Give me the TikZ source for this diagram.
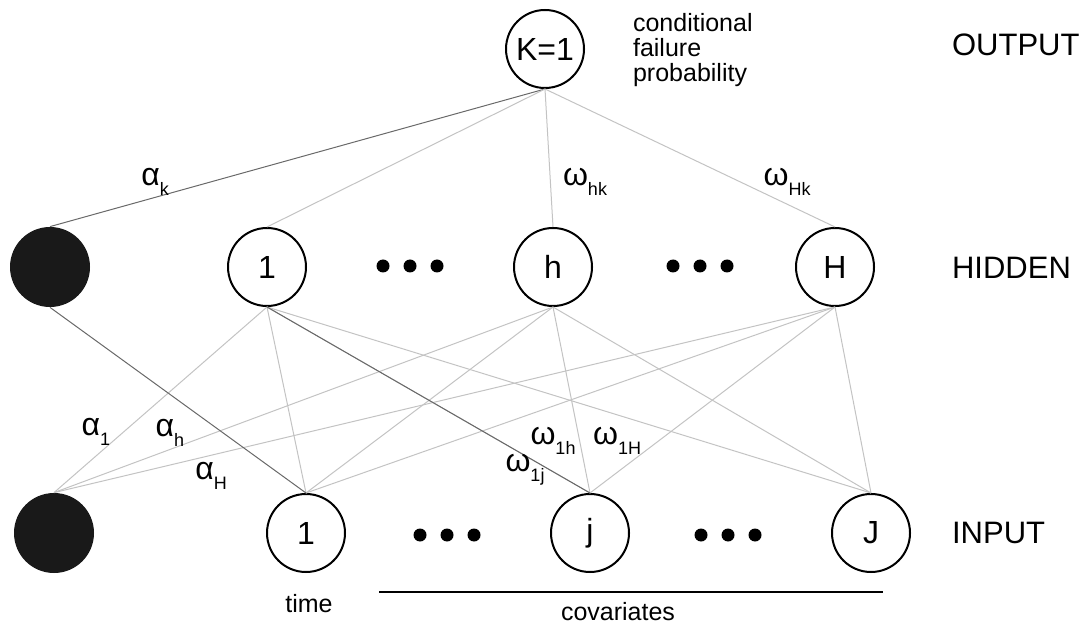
\documentclass[tikz,border=0pt]{standalone}
\usepackage{fontspec}
\setmainfont{Liberation Sans}
\usepackage{tikz}
\usetikzlibrary{positioning}
\definecolor{edgegray}{RGB}{195,195,195}
\definecolor{edgedark}{RGB}{105,105,105}
\definecolor{biasfill}{RGB}{25,25,25}
% weight label with a lowered small index
\newcommand{\wt}[2]{#1\raisebox{-0.6ex}{\fontsize{9}{9}\selectfont #2}}

\begin{document}
\begin{tikzpicture}[x=0.5pt,y=-0.5pt,
  unit/.style={circle,draw,line width=1pt,minimum size=39pt,inner sep=0pt,font=\fontsize{16}{16}\selectfont},
  biasunit/.style={circle,fill=biasfill,minimum size=40pt,inner sep=0pt},
  link/.style={edgegray,line width=0.5pt},
  strong/.style={edgedark,line width=0.5pt},
  layer/.style={anchor=west,font=\fontsize{15.5}{15.5}\selectfont},
  wlabel/.style={font=\fontsize{16}{16}\selectfont},
  note/.style={font=\fontsize{12.5}{12.5}\selectfont}]
  \useasboundingbox (0,0) rectangle (1079,624);

  % output layer
  \node[unit] (out) at (545,49) {K=1};
  \node[note,anchor=west,align=left] (prob) at (626,50) {conditional\\failure\\probability};
  \node[layer] (lout) at (945,45) {OUTPUT};

  % hidden layer
  \node[biasunit] (hb) at (50,267) {};
  \node[unit] (h1) at (267,267) {1};
  \node[unit] (hh) at (553,267) {h};
  \node[unit] (hH) at (835,267) {H};
  \node[layer] (lhid) at (945,268) {HIDDEN};

  % input layer
  \node[biasunit] (ib) at (54,533) {};
  \node[unit] (i1) at (306,533) {1};
  \node[unit] (ij) at (590,533) {j};
  \node[unit] (iJ) at (871,533) {J};
  \node[layer] (linp) at (945,533) {INPUT};

  % the dots between the units
  \foreach \x in {383,410,437,673,700,727} \fill (\x,266) circle (6.5);
  \foreach \x in {420,447,474,701,728,755} \fill (\x,535) circle (6.5);

  % hidden -> output
  \draw[strong] (out.south) -- (hb.north);
  \foreach \h in {h1,hh,hH}
    \draw[link] (out.south) -- (\h.north);

  % input -> hidden
  \foreach \h in {h1,hh,hH}
    \foreach \i in {ib,i1,ij,iJ}
      \draw[link] (\h.south) -- (\i.north);
  \draw[strong] (hb.south) -- (i1.north);
  \draw[strong] (h1.south) -- (ij.north);

  % weights
  \node[wlabel] (ak) at (155,182) {\wt{α}{k}};
  \node[wlabel] (whk) at (585,182) {\wt{ω}{hk}};
  \node[wlabel] (wHk) at (787,182) {\wt{ω}{Hk}};
  \node[wlabel] (a1) at (96,432) {\wt{α}{1}};
  \node[wlabel] (ah) at (170,433) {\wt{α}{h}};
  \node[wlabel] (aH) at (211,476) {\wt{α}{H}};
  \node[wlabel] (w1h) at (553,441) {\wt{ω}{1h}};
  \node[wlabel] (w1H) at (617,441) {\wt{ω}{1H}};
  \node[wlabel] (w1j) at (525,470) {\wt{ω}{1j}};

  % time / covariates
  \node[note] (time) at (309,604) {time};
  \coordinate (covL) at (379,592);
  \coordinate (covR) at (883,592);
  \draw[line width=1pt] (covL) -- (covR);
  \node[note] (cov) at (618,612) {covariates};
\end{tikzpicture}
\end{document}
